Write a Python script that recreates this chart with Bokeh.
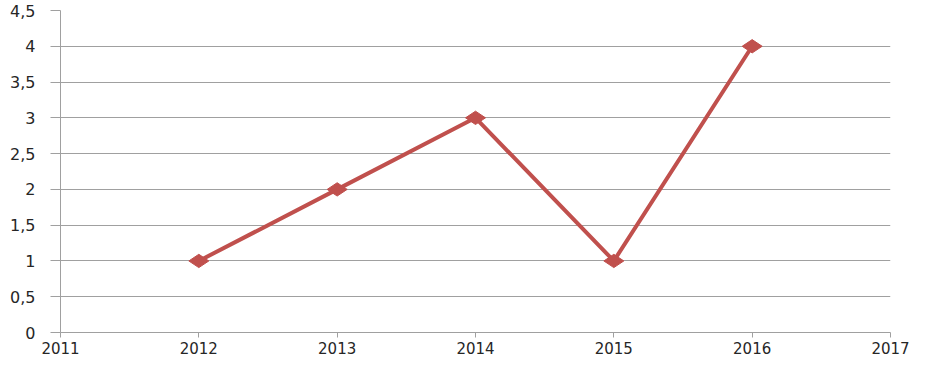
import math
from bokeh.plotting import figure
from bokeh.models import Range1d, FixedTicker
from bokeh.embed import file_html
from bokeh.resources import INLINE

years = [2012, 2013, 2014, 2015, 2016]
values = [1, 2, 3, 1, 4]
x_ticks = [2011, 2012, 2013, 2014, 2015, 2016, 2017]
y_ticks = [0, 0.5, 1, 1.5, 2, 2.5, 3, 3.5, 4, 4.5]
y_tick_labels = ["0", "0,5", "1", "1,5", "2", "2,5", "3", "3,5", "4", "4,5"]

line_color = "#C0504D"
grid_color = "#A0A0A0"
font = "DejaVu Sans"

p = figure(width=915, height=359, output_backend="svg", toolbar_location=None,
           x_range=Range1d(2011, 2017), y_range=Range1d(0, 4.5),
           min_border_left=60, min_border_right=25, min_border_top=10, min_border_bottom=27)
p.outline_line_color = None
p.background_fill_color = "white"

p.xgrid.grid_line_color = None
p.ygrid.grid_line_color = grid_color
p.ygrid.grid_line_width = 1

p.xaxis.ticker = FixedTicker(ticks=x_ticks)
p.yaxis.ticker = FixedTicker(ticks=y_ticks)
p.yaxis.major_label_overrides = {t: l for t, l in zip(y_ticks, y_tick_labels)}
p.xaxis.major_label_overrides = {t: str(t) for t in x_ticks}

for ax in (p.xaxis, p.yaxis):
    ax.axis_line_color = grid_color
    ax.major_tick_line_color = grid_color
    ax.minor_tick_line_color = None
    ax.major_tick_in = 0
    ax.major_label_text_font = font
    ax.major_label_text_color = "#262626"

p.yaxis.major_label_text_font_size = "16px"
p.xaxis.major_label_text_font_size = "15px"
p.yaxis.major_tick_out = 10
p.yaxis.major_label_standoff = 15
p.xaxis.major_tick_out = 5
p.xaxis.major_label_standoff = 4

p.line(years, values, line_color=line_color, line_width=4)
p.scatter(years, values, marker="diamond", angle=math.pi / 2, size=20,
          fill_color=line_color, line_color=line_color)

open("out.html", "w").write(file_html(p, INLINE))
